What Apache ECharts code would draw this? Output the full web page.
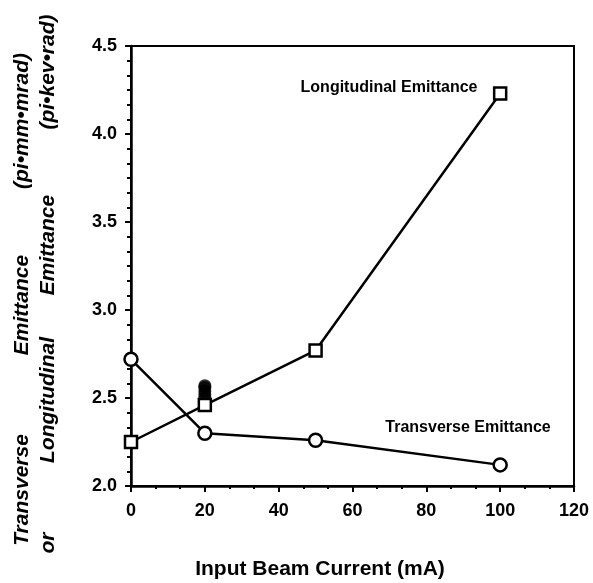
<!DOCTYPE html>
<html>
<head>
<meta charset="utf-8">
<script src="https://cdn.jsdelivr.net/npm/echarts@6/dist/echarts.min.js"></script>
<style>
  html, body { margin: 0; padding: 0; background: #fff; }
  #container { width: 593px; height: 583px; }
</style>
</head>
<body>
<div id="container"></div>
<script>
// data
var currents = [0, 20, 50, 100];
var transverse = [2.72, 2.30, 2.26, 2.12];
var longitudinal = [2.25, 2.46, 2.77, 4.23];
var extraX = [20, 20, 20, 20, 20];
var extraY = [2.50, 2.52, 2.54, 2.56, 2.57];

function pairs(xs, ys) {
  return xs.map(function (x, i) { return [x, ys[i]]; });
}

var dom = document.getElementById('container');
var myChart = echarts.init(dom);

var tickFont = {
  color: '#000',
  fontFamily: 'Liberation Sans',
  fontWeight: 'bold',
  fontSize: 18
};
var titleFont = 'italic bold 21px "Liberation Sans"';

function vword(text, x, y) {
  return {
    type: 'text',
    x: x,
    y: y,
    rotation: Math.PI / 2,
    style: {
      text: text,
      font: titleFont,
      fill: '#000',
      align: 'center',
      verticalAlign: 'middle'
    }
  };
}

var option = {
  animation: false,
  backgroundColor: '#fff',
  grid: {
    left: 131,
    right: 19,
    top: 46,
    bottom: 97,
    show: true,
    borderColor: '#000',
    borderWidth: 2
  },
  xAxis: {
    type: 'value',
    min: 0,
    max: 120,
    interval: 20,
    axisLine: { show: true, lineStyle: { color: '#000', width: 2.5 } },
    axisTick: { show: true, length: 6, lineStyle: { color: '#000', width: 2 } },
    minorTick: { show: true, splitNumber: 3, length: 3, lineStyle: { color: '#000', width: 2 } },
    splitLine: { show: false },
    axisLabel: Object.assign({ margin: 16 }, tickFont)
  },
  yAxis: {
    type: 'value',
    min: 2.0,
    max: 4.5,
    interval: 0.5,
    axisLine: { show: true, lineStyle: { color: '#000', width: 2.5 } },
    axisTick: { show: true, length: 6, lineStyle: { color: '#000', width: 2 } },
    minorTick: { show: true, splitNumber: 6, length: 4, lineStyle: { color: '#000', width: 2 } },
    splitLine: { show: false },
    axisLabel: Object.assign({
      margin: 14,
      formatter: function (v) { return v.toFixed(1); }
    }, tickFont)
  },
  series: [
    {
      name: 'Extra',
      type: 'scatter',
      data: pairs(extraX, extraY),
      symbol: 'circle',
      symbolSize: 13,
      itemStyle: { color: '#000' },
      z: 1
    },
    {
      name: 'Longitudinal Emittance',
      type: 'line',
      data: pairs(currents, longitudinal),
      symbol: 'rect',
      symbolSize: 12,
      lineStyle: { color: '#000', width: 2.5 },
      itemStyle: { color: '#fff', borderColor: '#000', borderWidth: 2.5 },
      z: 3
    },
    {
      name: 'Transverse Emittance',
      type: 'line',
      data: pairs(currents, transverse),
      symbol: 'circle',
      symbolSize: 13,
      lineStyle: { color: '#000', width: 2.5 },
      itemStyle: { color: '#fff', borderColor: '#000', borderWidth: 2.5 },
      z: 3
    }
  ],
  graphic: [
    {
      type: 'text', x: 389, y: 88,
      style: { text: 'Longitudinal Emittance', font: 'bold 16px "Liberation Sans"', fill: '#000', align: 'center', verticalAlign: 'middle' }
    },
    {
      type: 'text', x: 468, y: 428,
      style: { text: 'Transverse Emittance', font: 'bold 16px "Liberation Sans"', fill: '#000', align: 'center', verticalAlign: 'middle' }
    },
    {
      type: 'text', x: 320, y: 569,
      style: { text: 'Input Beam Current (mA)', font: 'bold 21px "Liberation Sans"', fill: '#000', align: 'center', verticalAlign: 'middle' }
    },
    vword('Transverse', 22, 490),
    vword('Emittance', 22, 305),
    vword('(pi•mm•mrad)', 22, 121),
    vword('or', 48, 543),
    vword('Longitudinal', 48, 400),
    vword('Emittance', 48, 245),
    vword('(pi•kev•rad)', 48, 72)
  ]
};

if (option && typeof option === 'object') {
  myChart.setOption(option);
}
</script>
</body>
</html>
